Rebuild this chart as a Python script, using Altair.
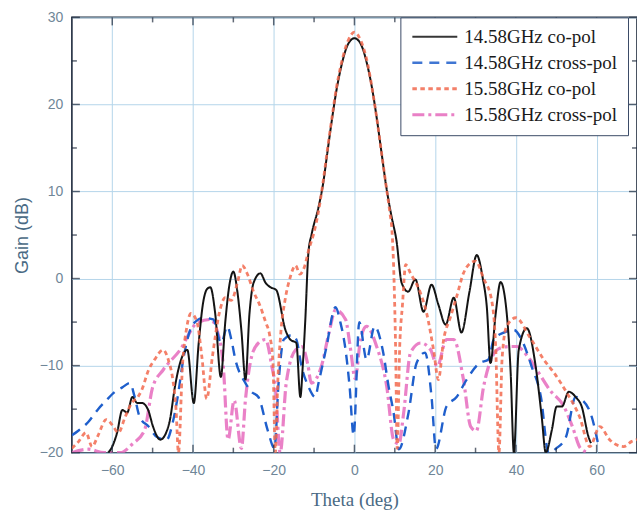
import altair as alt
import pandas as pd

series_names = ["14.58GHz co-pol", "14.58GHz cross-pol", "15.58GHz co-pol", "15.58GHz cross-pol"]

# 14.58GHz co-pol
x_co14 = [-61, -60, -58.8, -57.5, -56.3, -55, -53.8, -52.6, -51.1, -49.9, -48.1, -46.4, -45.7, -44.5, -43.2,
          -41.4, -39.8, -38.6, -37.5, -36.5, -35.7, -34.5, -33.1, -32, -31, -30, -29, -28, -27, -26, -25,
          -23.3, -22, -20.8, -19.4, -17.1, -15.9, -14.4, -13.4, -12.8, -12.2, -11.4, -10.6, -8.9, -7.8,
          -6.7, -5.5, -4.5, -3.3, -1.5, 0, 1.5, 3.3, 4.5, 5.5, 6.7, 7.8, 9.2, 10.4, 11.7, 13.3, 15.1, 17.1,
          19.1, 20.8, 22.6, 24.6, 26.5, 28.5, 30.3, 31.8, 32.8, 33.7, 35, 36.2, 37.5, 38.7, 39.5, 40.7,
          42.7, 44.9, 46.4, 47.4, 48.9, 50.1, 51.4, 53.1, 54.8, 56.3, 58, 58.6]
y_co14 = [-20, -19.3, -17.7, -15.1, -15.4, -13.6, -14.3, -14.3, -15.1, -17, -18.5, -17.4, -16.2, -12.5, -9.7,
          -8.2, -14.3, -7.5, -2.8, -1.2, -1, -4, -11.3, -5, -0.8, 0.8, -1.5, -6, -11.6, -4, -0.5,
          0.6, -0.5, -1, -1.3, -5.9, -7, -7.4, -13.6, -10, -5, 3, 5.1, 8.2, 10.8,
          14.5, 18.5, 21.5, 24.3, 27, 27.6, 27, 24.3, 21.5, 18.5, 14.5, 10.8, 7.1, 4.4, -0.5, -1.5, -0.1, -3.8,
          -0.7, -3, -5.3, -2.2, -6.2, -1.5, 2.7, 0, -3.3, -9.7, -4, -0.4, -3, -10.8, -20, -8.2,
          -5.7, -10.1, -15.9, -20, -17.4, -14.7, -14.7, -13, -13.6, -14.7, -18.2, -18.9]

# 14.58GHz cross-pol
x_cx14 = [-70, -68.5, -66, -63.5, -61.5, -59.3, -57.5, -55.6, -54.5, -53.2, -51, -48.9, -46.5, -45, -43.9,
          -42.3, -40.7, -39, -37.5, -35, -33, -31.5, -30.5, -29.5, -27, -25.5, -23.8, -21.5, -19.8, -18.8,
          -17.5, -15.5, -14.4, -13.1, -11.4, -9.7, -8.9, -7, -4.7, -3.5, -2.2, -1.2, -0.2, 1.2, 3, 5, 7,
          8.5, 9.7, 11, 13.4, 15.4, 17.5, 19.1, 20.2, 22.8, 25.3, 27.8, 31, 33.2, 34.5, 37, 39.5, 41.4,
          43.9, 46.2, 48.1, 50, 52.4, 54.8, 56.3, 58.8, 60.5]
y_cx14 = [-18, -17.5, -16.5, -15, -14, -13, -12.5, -12, -13.5, -15.9, -17, -18.2, -18.5, -16.5, -13.9,
          -9, -5.9, -4.8, -4.5, -4.7, -7.4, -5.5, -7, -9.3, -12, -13, -13.6, -17.4, -19.5, -12,
          -7, -6.5, -7, -10.1, -12.4, -13.6, -12, -8, -3.3, -5, -8.2, -12.4, -18, -5, -9.3, -5.5, -8.2,
          -12.5, -15.4, -19.6, -15.4, -9.7, -8.5, -13.6, -19.6, -14.7, -13.6, -11.6, -9.7, -9.3, -7, -6.2, -5.9, -7,
          -10.1, -13.6, -20, -19.5, -18.2, -13.6, -13.9, -15.9, -19.3]

# 15.58GHz co-pol
x_co15 = [-70, -68.3, -66.5, -65, -63.5, -61.5, -60, -58.5, -56.8, -55.2, -53.5, -52.7, -51, -49.5, -47.4,
          -46, -45, -44.2, -43.6, -42.6, -41.5, -40.5, -39, -37.8, -36.6, -35.2, -33.5, -32, -30.5, -29,
          -27.8, -26.5, -25, -23.5, -22, -21, -20.2, -19.6, -19, -18.2, -17.2, -16, -14.6, -13.5, -12.5,
          -11.2, -10.2, -8.8, -7.8, -6.7, -5.5, -4.5, -3.3, -1.5, 0, 1.5, 3.3, 4.5, 5.5, 6.7, 7.8, 8.8, 9.3,
          9.8, 10.2, 10.6, 11.2, 11.9,
          12.7, 13.9, 16.4, 17.9, 19.6, 20.8, 22.1, 23.8, 25.3, 27, 28.8, 30, 32, 34, 35, 35.8, 36.6,
          37.7, 40, 43.4, 46.9, 49.4, 52.6, 55.8, 58.3, 60.8, 63.2, 66.7, 68.7, 70]
y_co15 = [-19.5, -18.7, -17.7, -19.3, -18, -16.2, -16.8, -17.7, -15.9, -14.3, -13.5, -12.8, -10.5, -9.3, -8.2,
          -9.5, -11.6, -15, -20, -10, -5.5, -4, -5, -9, -13.8, -9, -4, -2.2, -2.5, -0.5,
          1.5, 0.5, -1.5, -3, -5, -6.5, -9.5, -20, -12, -6, -2.5, 0, 1.5, 0.5, 1.2,
          3.5, 5, 8, 11, 14.8, 18.7, 21.8, 24.6, 27.4, 28.3, 27.4, 24.6, 21.5, 18.5, 14.5, 10.8, 7.5, 5.5,
          0, -8, -19.5, -8, -3,
          1.6, 0.6, -1.7, -4, -8.2, -11.6, -7, -4.4, -2.1, 0.6, 1.8, 2, 0, -2.5, -8, -20, -9,
          -5.5, -4.5, -6.7, -9.3, -10.8, -13.1, -15.9, -19.3, -17, -18.5, -19.3, -18.7, -18.5]

# 15.58GHz cross-pol
x_cx15 = [-70, -66, -62, -58, -55, -52, -50, -47.4, -43.2, -39, -35.7, -34, -32.5, -31.3, -29.8, -28, -27,
          -25.5, -23.8, -22, -20.5, -19.6, -18.4, -16.9, -14.6, -13, -11.5, -10.7, -8.2, -6.2, -4.7, -2.2,
          -1, 0.2, 1.5, 3, 5.5, 8, 9.7, 11, 12.2, 13.9, 16.4, 18.9, 20.5, 22.8, 24.6, 27, 28.8, 30.2, 32,
          33.5, 36, 38.5, 40.2, 43, 45.2, 48.4, 51.9, 54, 56, 58]
y_cx15 = [-20, -19.6, -20, -20, -19, -17.4, -12.5, -10.5, -8.2, -5.1, -4.7, -6, -10, -18.5, -14, -19.5, -13.9,
          -9, -7.4, -7, -10, -12.4, -20, -12, -8.2, -7.8, -10, -12, -10.1, -6, -3.6, -4.7,
          -8, -11.5, -7, -5.5, -7.8, -12.4, -18.5, -19, -15.4, -8.5, -7.4, -8.2, -10.1, -7, -7, -11.6, -17, -17.5, -12.4,
          -9.7, -8, -7.8, -7.8, -9, -10.5, -12.8, -14.7, -17, -19.5, -20]

x_major = [-60, -40, -20, 0, 20, 40, 60]
x_minor = [-50, -30, -10, 10, 30, 50]
y_major = [-20, -10, 0, 10, 20, 30]
y_minor = [-15, -5, 5, 15, 25]

colors = ["#141414", "#1f5fcc", "#f26a4f", "#e66bbd"]
dashes = [[1, 0], [10, 7], [4.5, 3.5], [12, 4, 3, 4]]
widths = [2.0, 3.2, 5, 3.8]

rows = []
for name, xs_, ys_ in zip(series_names, [x_co14, x_cx14, x_co15, x_cx15], [y_co14, y_cx14, y_co15, y_cx15]):
    assert len(xs_) == len(ys_), name
    for a, b in zip(xs_, ys_):
        rows.append({"series": name, "theta": a, "gain": b})
df = pd.DataFrame(rows)

W, H = 566, 436
xscale = alt.Scale(domain=[-70, 70], nice=False, zero=False)
yscale = alt.Scale(domain=[-20, 30], nice=False, zero=False)
xaxis = alt.Axis(values=x_major, title="Theta (deg)", grid=True, ticks=False, domain=False,
                 labelPadding=11, titlePadding=13, titleFont="Liberation Serif", titleFontSize=19)
yaxis = alt.Axis(values=y_major, title="Gain (dB)", grid=True, ticks=False, domain=False,
                 labelPadding=9, titlePadding=8, titleFont="Liberation Sans", titleFontSize=18)

X = alt.X("theta:Q", scale=xscale, axis=xaxis)
Y = alt.Y("gain:Q", scale=yscale, axis=yaxis)

legend = alt.Legend(title=None, orient="none", legendX=329, legendY=0,
                    symbolType="M-3,0H3", symbolSize=225, symbolOffset=15, labelOffset=20,
                    fillColor="white", strokeColor="#3a4a66", padding=10, rowPadding=6,
                    labelFont="Liberation Serif", labelFontSize=19, labelColor="#1a1a1a",
                    labelLimit=300)

enc = dict(
    x=X, y=Y,
    color=alt.Color("series:N", scale=alt.Scale(domain=series_names, range=colors), legend=legend),
    strokeDash=alt.StrokeDash("series:N", scale=alt.Scale(domain=series_names, range=dashes), legend=legend),
    strokeWidth=alt.StrokeWidth("series:N", scale=alt.Scale(domain=series_names, range=widths), legend=legend),
)

draw_order = [series_names[3], series_names[1], series_names[0], series_names[2]]
line_layers = []
for name in draw_order:
    op = 0.85 if name.startswith("15.58") else 1.0
    line_layers.append(
        alt.Chart(df).transform_filter(alt.datum.series == name)
        .mark_line(clip=True, interpolate="monotone", strokeJoin="round", opacity=op)
        .encode(**enc)
    )

frame = "#1e2a3c"
xt_major = pd.DataFrame({"theta": x_major})
xt_minor = pd.DataFrame({"theta": x_minor})
yt_major = pd.DataFrame({"gain": y_major})
yt_minor = pd.DataFrame({"gain": y_minor})

tick_layers = []
for d, s in [(xt_major, 8), (xt_minor, 5)]:
    tick_layers.append(alt.Chart(d).mark_tick(size=s, thickness=1.5, color=frame)
                       .encode(x=X, y=alt.value(H - s / 2)))
    tick_layers.append(alt.Chart(d).mark_tick(size=s, thickness=1.5, color=frame)
                       .encode(x=X, y=alt.value(s / 2)))
for d, s in [(yt_major, 8), (yt_minor, 5)]:
    tick_layers.append(alt.Chart(d).mark_tick(size=s, thickness=1.5, color=frame)
                       .encode(y=Y, x=alt.value(s / 2)))
    tick_layers.append(alt.Chart(d).mark_tick(size=s, thickness=1.5, color=frame)
                       .encode(y=Y, x=alt.value(W - s / 2)))

chart = alt.layer(*line_layers, *tick_layers).properties(
    width=W, height=H,
    autosize=alt.AutoSizeParams(type="none"),
    padding={"left": 72, "top": 17, "right": 0, "bottom": 68},
    background="white",
).configure_view(
    stroke=frame, strokeWidth=1.6
).configure_axis(
    gridColor="#b5d5ea", gridWidth=1,
    labelColor="#6f8698", labelFont="Liberation Sans", labelFontSize=14,
    titleColor="#4a6a84", titleFontWeight="normal",
).configure_legend(strokeWidth=1)

chart.save("out.html", embed_options={"renderer": "svg", "actions": False})
